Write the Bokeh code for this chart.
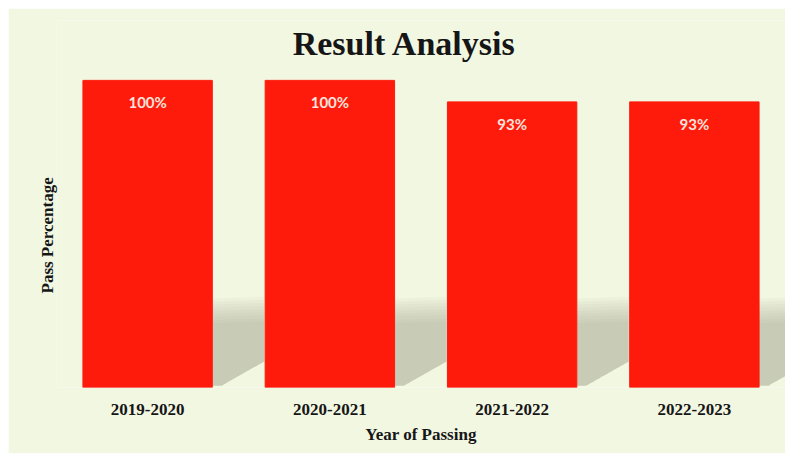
from bokeh.plotting import figure
from bokeh.models import FactorRange, Range1d, Label, Title
from bokeh.core.properties import value
from bokeh.embed import file_html
from bokeh.resources import INLINE

# ---- data ----
years = ["2019-2020", "2020-2021", "2021-2022", "2022-2023"]
pass_pct = [100, 100, 93, 93]
pct_labels = ["100%", "100%", "93%", "93%"]

# ---- style ----
BG = "#f2f7e2"
RED = "#fe1b0c"
BAR_W = 0.71
SERIF = "Liberation Serif"
INK = "#161616"

p = figure(width=777, height=445,
           x_range=FactorRange(*years), y_range=Range1d(0, 119.5),
           output_backend="svg", toolbar_location=None,
           min_border_left=48, min_border_right=0,
           min_border_top=12, min_border_bottom=66)
p.margin = (8, 0, 0, 8)
p.background_fill_color = BG
p.border_fill_color = BG
p.outline_line_color = None
p.grid.visible = False

# soft shadows to the right of each bar (derived from bar index / width)
for k in range(9):
    top = 29 - k * 1.0
    xs, ys = [], []
    for i in range(len(years)):
        xr = i + 0.5 + BAR_W / 2
        xs.append([xr, xr + 0.285, xr + 0.285, xr + 0.05, xr])
        ys.append([top, top + 0.5, 8.5, 0.6, 0.6])
    p.patches(xs, ys, fill_color="#8f917d", fill_alpha=0.05, line_color=None)

p.vbar(x=years, top=pass_pct, width=BAR_W, fill_color=RED, line_color=RED)

p.text(x=years, y=pass_pct, text=pct_labels, y_offset=22,
       text_align="center", text_baseline="middle",
       text_font=value("Lato"), text_font_style="bold",
       text_font_size="15px", text_color="#fde4dc")

# title
p.add_layout(Label(x=1.91, y=112, text="Result Analysis",
                   text_align="center", text_baseline="alphabetic",
                   text_font=SERIF, text_font_style="bold",
                   text_font_size="34px", text_color=INK))

# y-axis title on the left side
p.yaxis.visible = False
p.add_layout(Title(text="Pass Percentage", align="left", offset=94,
                   text_font=SERIF, text_font_style="bold",
                   text_font_size="17px", text_color=INK,
                   standoff=0), "left")

# x axis
xa = p.xaxis[0]
xa.axis_line_color = None
xa.major_tick_line_color = None
xa.minor_tick_line_color = None
xa.major_label_standoff = 10
xa.major_label_text_font = SERIF
xa.major_label_text_font_style = "bold"
xa.major_label_text_font_size = "17px"
xa.major_label_text_color = INK
xa.axis_label = "Year of Passing"
xa.axis_label_standoff = 7
xa.axis_label_text_font = SERIF
xa.axis_label_text_font_style = "bold"
xa.axis_label_text_font_size = "17px"
xa.axis_label_text_color = INK

open("out.html", "w").write(file_html(p, INLINE))
